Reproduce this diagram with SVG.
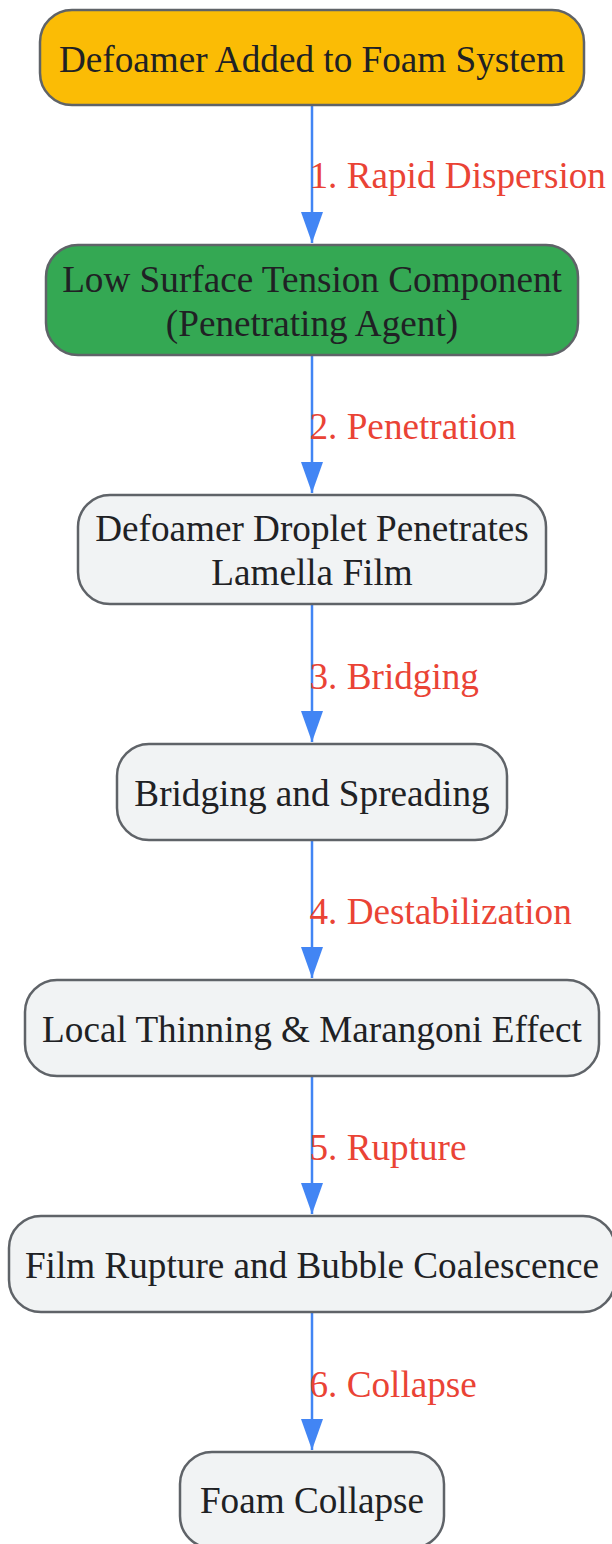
<svg xmlns="http://www.w3.org/2000/svg" width="612" height="1544" viewBox="0 0 612 1544">
<style>
.n{stroke:#5f6368;stroke-width:2.5}
.t{font-family:"Liberation Serif",serif;font-size:37.2px;fill:#202124;text-anchor:middle}
.l{font-family:"Liberation Serif",serif;font-size:37.2px;fill:#EA4335}
.c{stroke:#4285F4;stroke-width:2.5;fill:none}
</style>
<defs>
<marker id="a" markerUnits="userSpaceOnUse" markerWidth="32" markerHeight="24" refX="31" refY="11" orient="auto" viewBox="0 0 32 22">
<path d="M0,0 L31,11 L0,22 Z" fill="#4285F4"/>
</marker>
</defs>
<rect width="612" height="1544" fill="#fff"/>
<g id="connectors">
<line class="c" x1="312" y1="105" x2="312" y2="243" marker-end="url(#a)"/>
<line class="c" x1="312" y1="355" x2="312" y2="493" marker-end="url(#a)"/>
<line class="c" x1="312" y1="604" x2="312" y2="742" marker-end="url(#a)"/>
<line class="c" x1="312" y1="840" x2="312" y2="978" marker-end="url(#a)"/>
<line class="c" x1="312" y1="1076" x2="312" y2="1214" marker-end="url(#a)"/>
<line class="c" x1="312" y1="1312" x2="312" y2="1450" marker-end="url(#a)"/>
<text class="l" x="309.5" y="188">1. Rapid Dispersion</text>
<text class="l" x="309.5" y="439">2. Penetration</text>
<text class="l" x="309.5" y="689">3. Bridging</text>
<text class="l" x="309.5" y="924">4. Destabilization</text>
<text class="l" x="309.5" y="1160">5. Rupture</text>
<text class="l" x="309.5" y="1397">6. Collapse</text>
</g>
<g id="n1"><rect class="n" x="40" y="10" width="544" height="95" rx="32" fill="#FBBC05"/><text class="t" x="312" y="72">Defoamer Added to Foam System</text></g>
<g id="n2"><rect class="n" x="46" y="245" width="532" height="110" rx="32" fill="#34A853"/><text class="t" x="312" y="292">Low Surface Tension Component</text><text class="t" x="312" y="336">(Penetrating Agent)</text></g>
<g id="n3"><rect class="n" x="78" y="495" width="468" height="109" rx="32" fill="#F1F3F4"/><text class="t" x="312" y="541">Defoamer Droplet Penetrates</text><text class="t" x="312" y="585">Lamella Film</text></g>
<g id="n4"><rect class="n" x="117" y="744" width="390" height="96" rx="32" fill="#F1F3F4"/><text class="t" x="312" y="806">Bridging and Spreading</text></g>
<g id="n5"><rect class="n" x="25" y="980" width="574" height="96" rx="32" fill="#F1F3F4"/><text class="t" x="312" y="1042">Local Thinning &amp; Marangoni Effect</text></g>
<g id="n6"><rect class="n" x="9" y="1216" width="606" height="96" rx="32" fill="#F1F3F4"/><text class="t" x="312" y="1278">Film Rupture and Bubble Coalescence</text></g>
<g id="n7"><rect class="n" x="180" y="1452" width="264" height="96" rx="32" fill="#F1F3F4"/><text class="t" x="312" y="1513">Foam Collapse</text></g>
</svg>
